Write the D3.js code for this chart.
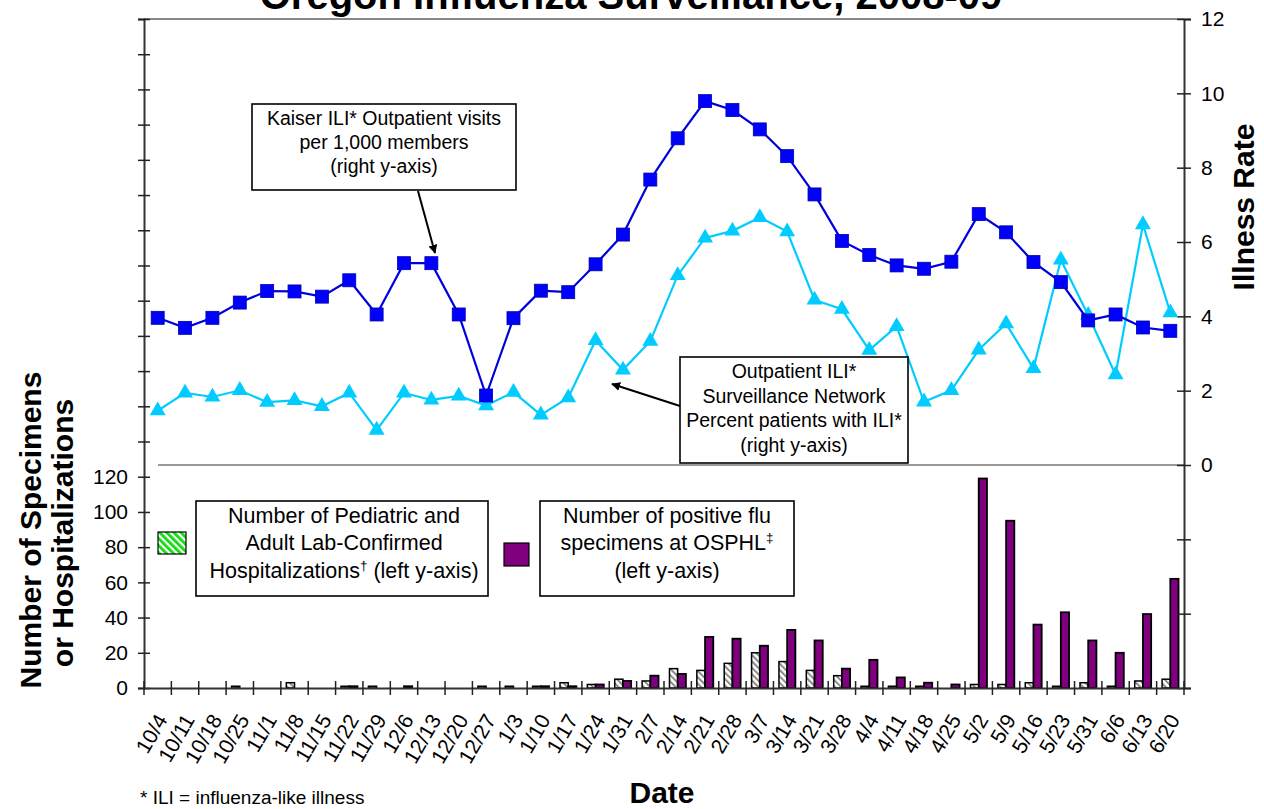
<!DOCTYPE html>
<html><head><meta charset="utf-8">
<script src="https://cdn.jsdelivr.net/npm/d3@7"></script>
<style>body{margin:0;background:#fff}svg{display:block;font-family:"Liberation Sans",Arial,sans-serif}</style>
</head><body><svg id="c" width="1264" height="809"></svg>
<script>
const dates = ["10/4","10/11","10/18","10/25","11/1","11/8","11/15","11/22","11/29","12/6","12/13","12/20","12/27","1/3","1/10","1/17","1/24","1/31","2/7","2/14","2/21","2/28","3/7","3/14","3/21","3/28","4/4","4/11","4/18","4/25","5/2","5/9","5/16","5/23","5/31","6/6","6/13","6/20"];
const kaiserRate = [3.96,3.69,3.96,4.37,4.68,4.67,4.53,4.97,4.05,5.43,5.43,4.05,1.87,3.95,4.69,4.65,5.40,6.20,7.68,8.79,9.79,9.55,9.03,8.31,7.28,6.03,5.65,5.37,5.28,5.47,6.75,6.26,5.46,4.92,3.89,4.05,3.70,3.61];
const iliPercent = [1.46,1.94,1.83,2.01,1.69,1.74,1.58,1.94,0.94,1.94,1.75,1.86,1.60,1.96,1.35,1.81,3.35,2.56,3.33,5.10,6.11,6.30,6.66,6.28,4.44,4.19,3.09,3.73,1.70,2.01,3.10,3.80,2.60,5.52,4.03,2.43,6.47,4.10];
const hospitalizations = [0,0,0,1,0,3,0,1,1,0,0,0,1,1,1,3,2,5,4,11,10,14,20,15,10,7,1,1,1,0,2,2,3,1,3,1,4,5];
const osphlPositive = [0,0,0,0,0,0,0,1,0,1,0,0,0,0,1,1,2,4,7,8,29,28,24,33,27,11,16,6,3,2,119,95,36,43,27,20,42,62];
const leftTicks = d3.range(0, 381, 20);
const leftLabelMax = 120;
const rightTicks = d3.range(-6, 13, 2);

const svg = d3.select("#c");
const L = 144, R = 1184, T = 19, B = 688;
const x = d3.scaleBand().domain(dates).range([L, R]);
const yL = d3.scaleLinear().domain([0, 380]).range([B, T]);
const yR = d3.scaleLinear().domain([-6, 12]).range([B, T]);
const cx = d => x(d) + x.bandwidth() / 2;

const defs = svg.append("defs");
const pg = defs.append("pattern").attr("id","hatchGray").attr("patternUnits","userSpaceOnUse")
  .attr("width",4.5).attr("height",4.5).attr("patternTransform","rotate(-45)");
pg.append("rect").attr("width",4.5).attr("height",4.5).attr("fill","#fff");
pg.append("rect").attr("width",2).attr("height",4.5).attr("fill","#8a8a8a");
const pgr = defs.append("pattern").attr("id","hatchGreen").attr("patternUnits","userSpaceOnUse")
  .attr("width",5).attr("height",5).attr("patternTransform","rotate(-45)");
pgr.append("rect").attr("width",5).attr("height",5).attr("fill","#fff");
pgr.append("rect").attr("width",2.8).attr("height",5).attr("fill","#11dd11");
const mk = defs.append("marker").attr("id","arr").attr("viewBox","0 0 10 10").attr("refX",9).attr("refY",5)
  .attr("markerWidth",9).attr("markerHeight",9).attr("markerUnits","userSpaceOnUse").attr("orient","auto");
mk.append("path").attr("d","M0,0 L10,5 L0,10 z").attr("fill","#000");

// title
svg.append("text").attr("x",631).attr("y",9).attr("text-anchor","middle")
  .attr("font-size",40).attr("font-weight","bold").text("Oregon Influenza Surveillance, 2008-09");

// top border & zero line of right axis
svg.append("line").attr("x1",L).attr("x2",R).attr("y1",T).attr("y2",T).attr("stroke","#888").attr("stroke-width",2);
svg.append("line").attr("x1",158).attr("x2",R).attr("y1",yR(0)).attr("y2",yR(0)).attr("stroke","#999").attr("stroke-width",2);

// bars
const bw = x.bandwidth() * 0.3;
const bars = svg.append("g");
bars.selectAll(".h").data(dates.map((d,i)=>({d,v:hospitalizations[i]})).filter(o=>o.v>0)).join("rect")
  .attr("x",o=>cx(o.d)-bw).attr("width",bw).attr("y",o=>yL(o.v)).attr("height",o=>yL(0)-yL(o.v))
  .attr("fill","url(#hatchGray)").attr("stroke","#000").attr("stroke-width",1.5);
bars.selectAll(".p").data(dates.map((d,i)=>({d,v:osphlPositive[i]})).filter(o=>o.v>0)).join("rect")
  .attr("x",o=>cx(o.d)).attr("width",bw).attr("y",o=>yL(o.v)).attr("height",o=>yL(0)-yL(o.v))
  .attr("fill","#800080").attr("stroke","#000").attr("stroke-width",1.8);

// axes
const axL = svg.append("g").attr("transform",`translate(${L},0)`)
  .call(d3.axisLeft(yL).tickValues(leftTicks).tickSize(6).tickPadding(10).tickFormat(d=>d<=leftLabelMax?d:""));
const axR = svg.append("g").attr("transform",`translate(${R},0)`)
  .call(d3.axisRight(yR).tickValues(rightTicks).tickSize(7).tickPadding(10).tickFormat(d=>d>=0?d:""));
[axL,axR].forEach(a=>{
  a.select(".domain").attr("stroke","#333").attr("stroke-width",2);
  a.selectAll(".tick line").attr("stroke","#222").attr("stroke-width",1.5);
  a.selectAll("text").attr("font-size",21).attr("fill","#000").attr("font-family","Liberation Sans, Arial, sans-serif");
});
axL.selectAll(".tick line").attr("x1",6);
axR.selectAll(".tick line").attr("x1",-7);

const axB = svg.append("g").attr("transform",`translate(0,${B})`)
  .call(d3.axisBottom(x).tickSize(0).tickPadding(0));
axB.select(".domain").attr("stroke","#333").attr("stroke-width",2);
axB.selectAll("text").attr("font-size",21).attr("fill","#000").attr("font-family","Liberation Sans, Arial, sans-serif")
  .attr("text-anchor","end").attr("y",0).attr("dy","0.35em")
  .attr("transform","translate(4,28) rotate(-60)");
svg.append("g").selectAll("line").data([...dates.map(d=>x(d)), R]).join("line")
  .attr("x1",d=>d).attr("x2",d=>d).attr("y1",B-7).attr("y2",B+7).attr("stroke","#222").attr("stroke-width",1.5);

// lines
const lineR = d3.line().x((v,i)=>cx(dates[i])).y(v=>yR(v));
svg.append("path").attr("d",lineR(iliPercent)).attr("fill","none").attr("stroke","#00CCFF").attr("stroke-width",2.2);
svg.append("g").selectAll("path").data(iliPercent).join("path")
  .attr("transform",(v,i)=>`translate(${cx(dates[i])},${yR(v)})`)
  .attr("d",d3.symbol(d3.symbolTriangle,110)).attr("fill","#00CCFF");
svg.append("path").attr("d",lineR(kaiserRate)).attr("fill","none").attr("stroke","#0000DD").attr("stroke-width",2.2);
svg.append("g").selectAll("rect").data(kaiserRate).join("rect")
  .attr("x",(v,i)=>cx(dates[i])-6.5).attr("y",v=>yR(v)-6.5).attr("width",13).attr("height",13)
  .attr("fill","#0000FF").attr("stroke","#0000AA").attr("stroke-width",0.8);

// axis titles
svg.append("text").attr("transform","translate(1254,207) rotate(-90)").attr("text-anchor","middle")
  .attr("font-size",30).attr("font-weight","bold").text("Illness Rate");
svg.append("text").attr("transform","translate(41,530) rotate(-90)").attr("text-anchor","middle")
  .attr("font-size",30).attr("font-weight","bold").text("Number of Specimens");
svg.append("text").attr("transform","translate(73,533) rotate(-90)").attr("text-anchor","middle")
  .attr("font-size",30).attr("font-weight","bold").text("or Hospitalizations");
svg.append("text").attr("x",662).attr("y",803).attr("text-anchor","middle")
  .attr("font-size",30).attr("font-weight","bold").text("Date");
svg.append("text").attr("x",140).attr("y",804).attr("font-size",19).text("* ILI = influenza-like illness");

// annotation boxes
function box(x0,y0,w,h){svg.append("rect").attr("x",x0).attr("y",y0).attr("width",w).attr("height",h)
  .attr("fill","#fff").attr("stroke","#000").attr("stroke-width",1.6);}
function lines(xc,ys,arr,fs){arr.forEach((t,i)=>{
  const tx = svg.append("text").attr("x",xc).attr("y",ys[i]).attr("text-anchor","middle").attr("font-size",fs);
  if(Array.isArray(t)){tx.append("tspan").text(t[0]);
    tx.append("tspan").attr("font-size",fs*0.62).attr("dy",-fs*0.38).text(t[1]);
    if(t[2]) tx.append("tspan").attr("dy",fs*0.38).text(t[2]);}
  else tx.text(t);});}

box(252,104,264,86);
lines(384,[125,149,173],["Kaiser ILI* Outpatient visits","per 1,000 members","(right y-axis)"],19.5);
svg.append("line").attr("x1",418).attr("y1",191).attr("x2",435).attr("y2",253).attr("stroke","#000").attr("stroke-width",2).attr("marker-end","url(#arr)");

box(680,357,228,106);
lines(794,[378,403,427,452],["Outpatient ILI*","Surveillance Network","Percent patients with ILI*","(right y-axis)"],19.5);
svg.append("line").attr("x1",680).attr("y1",406).attr("x2",612).attr("y2",384).attr("stroke","#000").attr("stroke-width",2).attr("marker-end","url(#arr)");

box(196,501,292,95);
lines(344,[523,550,578],["Number of Pediatric and","Adult Lab-Confirmed",["Hospitalizations","†"," (left y-axis)"]],21.5);
svg.append("rect").attr("x",158).attr("y",532).attr("width",28).attr("height",22).attr("fill","url(#hatchGreen)").attr("stroke","#000").attr("stroke-width",1.2);

box(540,501,254,95);
lines(667,[523,550,578],["Number of positive flu",["specimens at OSPHL","‡",""],"(left y-axis)"],21.5);
svg.append("rect").attr("x",504).attr("y",543).attr("width",25).attr("height",23).attr("fill","#800080").attr("stroke","#000").attr("stroke-width",1.2);
</script></body></html>
